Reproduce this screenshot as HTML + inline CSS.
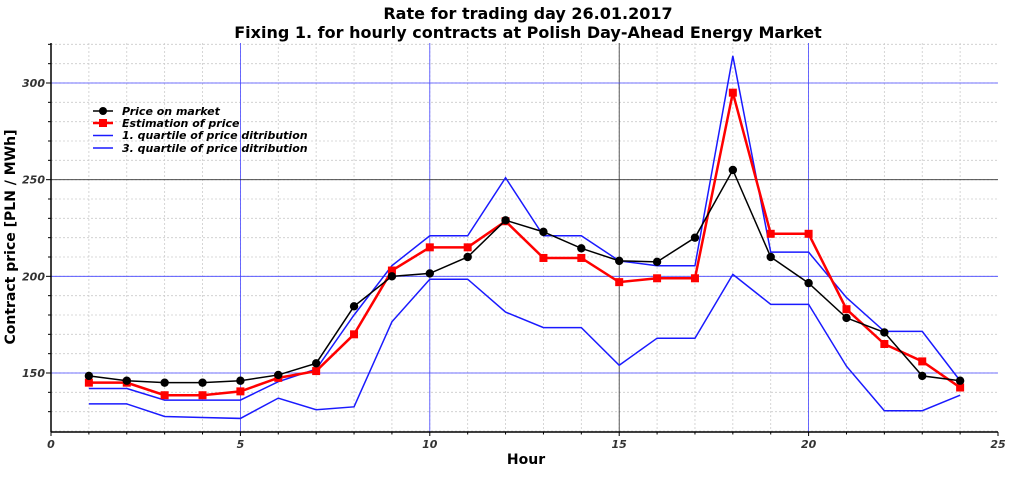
<!DOCTYPE html>
<html><head><meta charset="utf-8"><style>
body{margin:0;background:#fff;}
svg{display:block;font-family:"DejaVu Sans","Liberation Sans",sans-serif;}
</style></head><body>
<svg id="chart" width="1024" height="477" viewBox="0 0 1024 477" xmlns="http://www.w3.org/2000/svg">
<text x="528" y="19" text-anchor="middle" font-size="16" font-weight="bold">Rate for trading day 26.01.2017</text>
<text x="528" y="38" text-anchor="middle" font-size="16" font-weight="bold">Fixing 1. for hourly contracts at Polish Day-Ahead Energy Market</text>
<g id="grid"></g>
<g id="series"></g>
<g id="axes"></g>
<text x="526" y="464" text-anchor="middle" font-size="14" font-weight="bold">Hour</text>
<text transform="translate(15,237) rotate(-90)" text-anchor="middle" font-size="14" font-weight="bold">Contract price [PLN / MWh]</text>
<g font-size="11" font-weight="bold" font-style="italic">
<line x1="93" y1="111" x2="113" y2="111" stroke="#000" stroke-width="1.5"/><circle cx="103" cy="111" r="4"/>
<text x="122" y="115">Price on market</text>
<line x1="93" y1="123" x2="113" y2="123" stroke="red" stroke-width="2.5"/><rect x="99" y="119" width="8" height="8" fill="red"/>
<text x="122" y="127">Estimation of price</text>
<line x1="93" y1="135.5" x2="113" y2="135.5" stroke="#1a1aff" stroke-width="1.5"/>
<text x="122" y="139">1. quartile of price ditribution</text>
<line x1="93" y1="148" x2="113" y2="148" stroke="#1a1aff" stroke-width="1.5"/>
<text x="122" y="152">3. quartile of price ditribution</text>
</g>
</svg>
<script>
const hours=[1,2,3,4,5,6,7,8,9,10,11,12,13,14,15,16,17,18,19,20,21,22,23,24];
const price=[148.5,146,145,145,146,149,155,184.5,200,201.5,210,229,223,214.5,208,207.5,220,255,210,196.5,178.5,171,148.5,146];
const estimation=[145,145,138.5,138.5,140.5,147.5,151,170,203,215,215,228.5,209.5,209.5,197,199,199,295,222,222,183,165,156,142.5];
const q1=[134,134,127.5,127,126.5,137,131,132.5,176.5,198.5,198.5,181.5,173.5,173.5,154,168,168,201,185.5,185.5,153.5,130.5,130.5,138.5];
const q3=[142,142,136,136,136,145.5,152,180,205.5,221,221,251,221,221,208,205.5,205.5,314,212.5,212.5,189,171.5,171.5,146];
const xTicks=[0,5,10,15,20,25];
const yTicks=[150,200,250,300];
const L=51,R=998,T=43,B=432,xMin=0,xMax=25,yAt300=83,yAt150=373;
const x=v=>L+(v-xMin)/(xMax-xMin)*(R-L);
const y=v=>yAt150-(v-150)*(yAt150-yAt300)/150;
const NS="http://www.w3.org/2000/svg";
function mk(tag,attrs,parent){const e=document.createElementNS(NS,tag);for(const k in attrs)e.setAttribute(k,attrs[k]);parent.appendChild(e);return e;}
const grid=document.getElementById('grid'),ser=document.getElementById('series'),ax=document.getElementById('axes');
for(let v=1;v<25;v++){const l=mk('line',{x1:x(v),x2:x(v),y1:T,y2:B,stroke:'#ccc','stroke-dasharray':'2,2','stroke-width':0.8},grid);
}
for(let v=120;v<=320;v+=10){const l=mk('line',{x1:L,x2:R,y1:y(v),y2:y(v),stroke:'#ccc','stroke-dasharray':'2,2','stroke-width':0.8},grid);
}
xTicks.forEach(v=>{if(v>0&&v<25){const l=mk('line',{x1:x(v),x2:x(v),y1:T,y2:B,stroke:v===15?'#333':'#4444ff','stroke-width':0.8},grid);
}
const t=mk('text',{x:x(v),y:B+16,'text-anchor':'middle','font-size':11,'font-weight':'bold','font-style':'italic',fill:'#333'},ax);t.textContent=v;

mk('line',{x1:x(v),x2:x(v),y1:B,y2:B+4,stroke:'#000'},ax);});
yTicks.forEach(v=>{const l=mk('line',{x1:L,x2:R,y1:y(v),y2:y(v),stroke:v===250?'#333':'#4444ff','stroke-width':0.8},grid);

const t=mk('text',{x:L-6,y:y(v)+4,'text-anchor':'end','font-size':11,'font-weight':'bold','font-style':'italic',fill:'#333'},ax);t.textContent=v;

mk('line',{x1:L-5,x2:L,y1:y(v),y2:y(v),stroke:'#000'},ax);});
for(let v=130;v<=320;v+=10){if(v%50)mk('line',{x1:L-3,x2:L,y1:y(v),y2:y(v),stroke:'#000'},ax);}
for(let v=1;v<25;v++){if(v%5)mk('line',{x1:x(v),x2:x(v),y1:B,y2:B+2.5,stroke:'#000'},ax);}
const a1=mk('line',{x1:L,x2:L,y1:T,y2:B,stroke:'#000','stroke-width':1.5},ax);
const a2=mk('line',{x1:L,x2:R,y1:B,y2:B,stroke:'#000','stroke-width':1.5},ax);
function line(arr,color,w,name){const p=mk('polyline',{points:arr.map((v,i)=>x(hours[i])+','+y(v)).join(' '),fill:'none',stroke:color,'stroke-width':w},ser);
}
line(q1,'#1a1aff',1.5,'q1-line');
line(q3,'#1a1aff',1.5,'q3-line');
line(estimation,'red',2.5,'estimation-line');
estimation.forEach((v,i)=>{const r=mk('rect',{x:x(hours[i])-4,y:y(v)-4,width:8,height:8,fill:'red'},ser);
});
line(price,'#000',1.5,'price-line');
price.forEach((v,i)=>{const c=mk('circle',{cx:x(hours[i]),cy:y(v),r:4.2,fill:'#000'},ser);
});
</script>
</body></html>
